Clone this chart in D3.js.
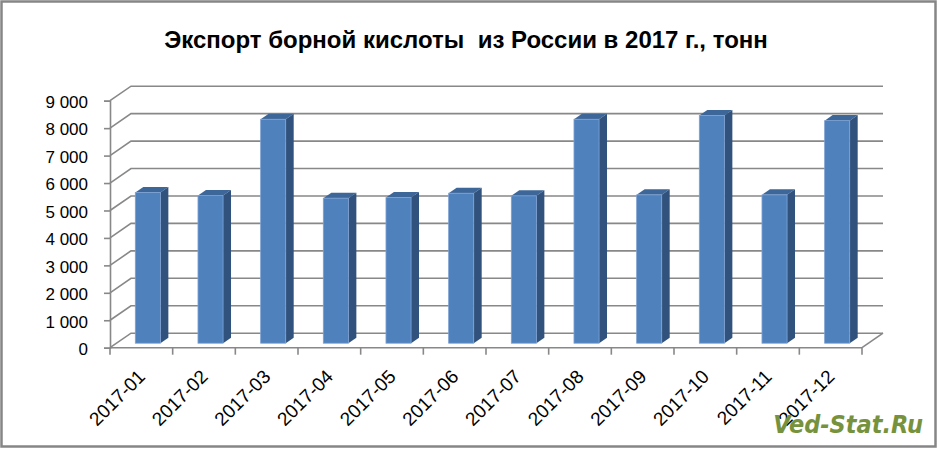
<!DOCTYPE html>
<html>
<head>
<meta charset="utf-8">
<script src="https://cdn.jsdelivr.net/npm/d3@7"></script>
<style>
  body { margin: 0; background: #fff; }
  svg { display: block; }
</style>
</head>
<body>
<div id="chart"></div>
<script>
// chart data
let months = ["2017-01", "2017-02", "2017-03", "2017-04", "2017-05", "2017-06",
              "2017-07", "2017-08", "2017-09", "2017-10", "2017-11", "2017-12"];
let exportTons = [5490, 5380, 8160, 5285, 5305, 5465, 5370, 8160, 5405, 8295, 5405, 8110];
let yTicks = [0, 1000, 2000, 3000, 4000, 5000, 6000, 7000, 8000, 9000];

let width = 939, height = 449;
// front plane of the 3d plot box
let plot = {left: 110, right: 862, top: 100.7, bottom: 347.7};
// depth offset of the back wall
let depthX = 21, depthY = -14.5;
let barFront = 0.31, barBack = 0.69;

let gridColor = "#888888";

let ruLocale = d3.formatLocale({decimal: ",", thousands: "\u00a0", grouping: [3], currency: ["", " руб."]});
let fmt = ruLocale.format(",d");

let svg = d3.select("#chart")
    .append("svg")
    .attr("width", width)
    .attr("height", height);

svg.append("rect")
    .attr("x", 1.5).attr("y", 1.5)
    .attr("width", 934).attr("height", 445)
    .attr("fill", "#fff")
    .attr("stroke", "#868686")
    .attr("stroke-width", 2.5);

let x = d3.scaleBand()
    .domain(months)
    .range([plot.left, plot.right])
    .paddingInner(0.6)
    .paddingOuter(0.3);

let y = d3.scaleLinear()
    .domain([0, 9000])
    .range([plot.bottom, plot.top]);

// project a front plane point to given depth (0 = front, 1 = back)
function px(xv, d) { return xv + d * depthX; }
function py(yv, d) { return yv + d * depthY; }

// walls: left wall diagonals + back wall gridlines
let grid = svg.append("g")
    .attr("stroke", gridColor)
    .attr("stroke-width", 1.6)
    .attr("fill", "none");

grid.selectAll("path.grid")
    .data(yTicks)
    .enter()
    .append("path")
    .attr("class", "grid")
    .attr("d", d => `M${plot.left},${y(d)}L${px(plot.left, 1)},${py(y(d), 1)}L${px(plot.right, 1)},${py(y(d), 1)}`);

// floor right edge
grid.append("path")
    .attr("d", `M${plot.right},${plot.bottom}L${px(plot.right, 1)},${py(plot.bottom, 1)}`);

// bars
let step = x.step();
let bars = svg.append("g")
    .selectAll("g.bar")
    .data(months.map((m, i) => ({month: m, value: exportTons[i]})))
    .enter()
    .append("g")
    .attr("class", "bar");

bars.each(function(d) {
    let g = d3.select(this);
    let x0 = px(x(d.month), barFront), x1 = x0 + x.bandwidth();
    let yTop = py(y(d.value), barFront), yBot = py(y(0), barFront);
    let ddx = (barBack - barFront) * depthX, ddy = (barBack - barFront) * depthY;

    // top face
    g.append("path")
        .attr("d", `M${x0},${yTop}L${x0 + ddx},${yTop + ddy}L${x1 + ddx},${yTop + ddy}L${x1},${yTop}Z`)
        .attr("fill", "#3D6699");
    // side face
    g.append("path")
        .attr("d", `M${x1},${yTop}L${x1 + ddx},${yTop + ddy}L${x1 + ddx},${yBot + ddy}L${x1},${yBot}Z`)
        .attr("fill", "#31527C");
    // front face
    g.append("rect")
        .attr("x", x0)
        .attr("y", yTop)
        .attr("width", x1 - x0)
        .attr("height", yBot - yTop)
        .attr("fill", "#4F81BD")
        .attr("stroke", "#7DA1D4")
        .attr("stroke-width", 0.8);
});

// y axis
let yAxis = svg.append("g")
    .attr("transform", `translate(${plot.left},0)`)
    .call(d3.axisLeft(y).tickValues(yTicks).tickSize(6).tickPadding(16).tickFormat(fmt));

yAxis.select(".domain").attr("stroke", gridColor).attr("stroke-width", 1.6);
yAxis.selectAll(".tick line").attr("stroke", gridColor).attr("stroke-width", 1.6);
yAxis.selectAll(".tick text")
    .attr("fill", "#000")
    .style("font-family", "'Liberation Sans', Arial, sans-serif")
    .style("font-size", "17px")
    .attr("dy", "0.4em");

// x axis: floor front edge with ticks at category boundaries
let xAxis = svg.append("g");
xAxis.append("line")
    .attr("x1", plot.left).attr("x2", plot.right)
    .attr("y1", plot.bottom).attr("y2", plot.bottom)
    .attr("stroke", gridColor).attr("stroke-width", 1.6);

let bounds = months.map(m => x(m) - x.paddingOuter() * step).concat([plot.right]);
xAxis.selectAll("line.xt")
    .data(bounds)
    .enter()
    .append("line")
    .attr("class", "xt")
    .attr("x1", d => d).attr("x2", d => d)
    .attr("y1", plot.bottom).attr("y2", plot.bottom + 7)
    .attr("stroke", gridColor).attr("stroke-width", 1.6);

xAxis.selectAll("text")
    .data(months)
    .enter()
    .append("text")
    .attr("transform", d => `translate(${x(d) + x.bandwidth() / 2 + 5},${plot.bottom + 30}) rotate(-45)`)
    .attr("text-anchor", "end")
    .style("font-family", "'Liberation Sans', Arial, sans-serif")
    .style("font-size", "19px")
    .text(d => d);

// title
svg.append("text")
    .attr("x", 466)
    .attr("y", 48)
    .attr("text-anchor", "middle")
    .style("white-space", "pre")
    .style("font-family", "'Liberation Sans', Arial, sans-serif")
    .style("font-weight", "bold")
    .style("font-size", "24px")
    .text("Экспорт борной кислоты  из России в 2017 г., тонн");

// watermark
svg.append("text")
    .attr("x", 923)
    .attr("y", 433)
    .attr("text-anchor", "end")
    .style("font-family", "'DejaVu Sans Condensed', 'DejaVu Sans', sans-serif")
    .style("font-weight", "bold")
    .style("font-style", "italic")
    .style("font-size", "25px")
    .attr("fill", "#76923C")
    .text("Ved-Stat.Ru");
</script>
</body>
</html>
